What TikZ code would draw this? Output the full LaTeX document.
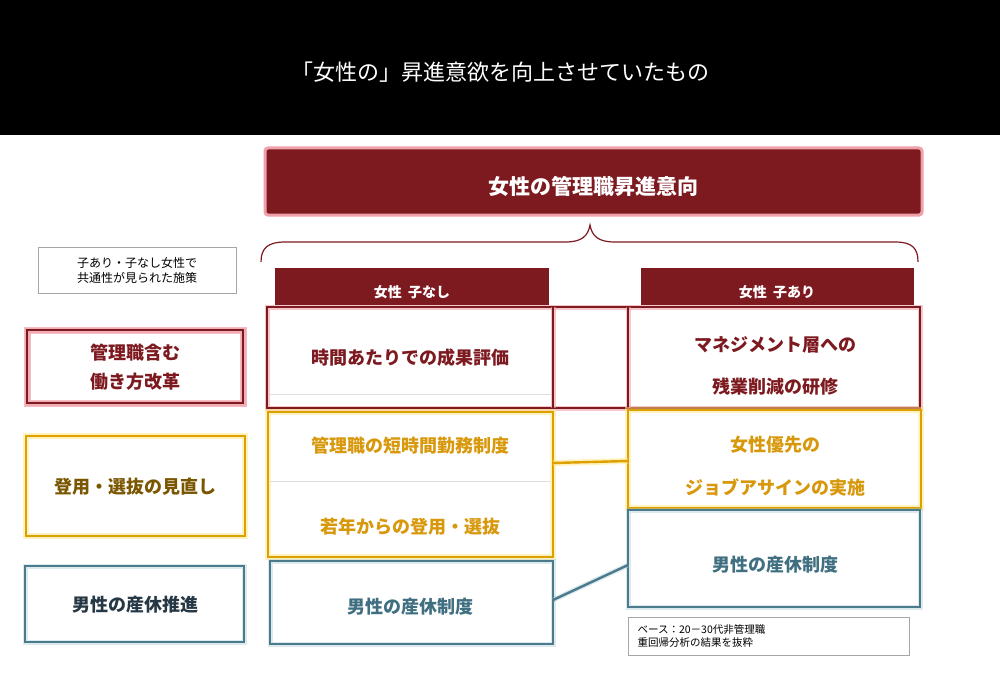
\documentclass[tikz,border=0pt]{standalone}
\usepackage{fontspec}
\setmainfont{Noto Sans CJK JP}
\begin{document}
\begin{tikzpicture}[x=1pt,y=-1pt,
  txt/.style={font=\bfseries\fontsize{18}{22}\selectfont,align=center},
  redc/.style={draw=dred,line width=1.6pt,preaction={draw=pinkg,line width=5pt,opacity=0.6}},
  yelc/.style={draw=gold,line width=2.4pt,preaction={draw=yelg,line width=6pt,opacity=0.5}},
  bluc/.style={draw=blue1,line width=2.4pt,preaction={draw=blueg,line width=5pt,opacity=0.4}},
  notebox/.style={draw=gray!70,line width=0.8pt,fill=white}]
\definecolor{dred}{HTML}{7D1A20}
\definecolor{pinkg}{HTML}{F0A0A8}
\definecolor{gold}{HTML}{DDA000}
\definecolor{goldt}{HTML}{D8980C}
\definecolor{yelg}{HTML}{FFE680}
\definecolor{brownt}{HTML}{7A5600}
\definecolor{blue1}{HTML}{4A7A8C}
\definecolor{blueg}{HTML}{A8C8D4}
\definecolor{bluet}{HTML}{3F6F80}
\definecolor{darkt}{HTML}{263845}
\useasboundingbox (0,0) rectangle (1000,687);
\fill[white] (0,0) rectangle (1000,687);
\fill[black] (0,0) rectangle (1000,135);
\node[white,font=\fontsize{22}{26}\selectfont] (title) at (500,72) {「女性の」昇進意欲を向上させていたもの};
% top box
\draw[fill=dred,draw=pinkg,line width=3pt,rounded corners=3pt] (265,148) rectangle (922,215);
\node[white,font=\bfseries\fontsize{21}{25}\selectfont] (top) at (593,186) {女性の管理職昇進意向};
% brace
\draw[dred,line width=1.2pt] (261,262) .. controls (261,248) and (268,242) .. (285,242) -- (565,242) .. controls (582,242) and (588,236) .. (590,225) .. controls (592,236) and (598,242) .. (615,242) -- (895,242) .. controls (912,242) and (918,248) .. (918,262);
% note
\draw[notebox] (38,247) rectangle (236,293);
\node[font=\fontsize{12}{15}\selectfont,align=center] (n1) at (137,270) {子あり・子なし女性で\\共通性が見られた施策};
% headers
\fill[dred] (275,268) rectangle (549,305);
\node[white,font=\bfseries\fontsize{14}{17}\selectfont] (h1) at (412,292) {女性\ \ 子なし};
\fill[dred] (641,268) rectangle (914,305);
\node[white,font=\bfseries\fontsize{14}{17}\selectfont] (h2) at (777,292) {女性\ \ 子あり};
% red row
\draw[gray!25,line width=0.8pt] (270,394) -- (551,394);
\draw[redc] (267,307) rectangle (920,408);
\draw[redc] (553,307) -- (553,408);
\draw[redc] (628,307) -- (628,408);
\node[txt,dred] (r1) at (410,358) {時間あたりでの成果評価};
\node[txt,dred] (r2a) at (775,345) {マネジメント層への};
\node[txt,dred] (r2b) at (775,387) {残業削減の研修};
% yellow
\draw[gray!25,line width=0.8pt] (270,481) -- (551,481);
\draw[yelc] (268,412) rectangle (553,557);
\draw[yelc] (628,410) rectangle (921,508);
\coordinate (y1) at (553,463);
\coordinate (y2) at (628,461);
\draw[yelc] (y1) -- (y2);
\node[txt,goldt] (ya) at (410,446) {管理職の短時間勤務制度};
\node[txt,goldt] (yb) at (410,527) {若年からの登用・選抜};
\node[txt,goldt] (yc) at (775,445) {女性優先の};
\node[txt,goldt] (yd) at (775,488) {ジョブアサインの実施};
% blue
\draw[bluc] (270,561) rectangle (553,644);
\draw[bluc] (628,510) rectangle (920,607);
\coordinate (b1) at (553,600);
\coordinate (b2) at (628,565);
\draw[bluc] (b1) -- (b2);
\node[txt,bluet] (ba) at (410,607) {男性の産休制度};
\node[txt,bluet] (bb) at (775,565) {男性の産休制度};
% category boxes
\draw[redc,line width=2pt,preaction={draw=pinkg,line width=7pt,opacity=0.7}] (27,330) rectangle (243,403);
\node[txt,dred,font=\bfseries\fontsize{18}{29}\selectfont] (c1) at (135,367) {管理職含む\\働き方改革};
\draw[yelc] (26,436) rectangle (245,536);
\node[txt,brownt] (c2) at (135,487) {登用・選抜の見直し};
\draw[bluc] (25,566) rectangle (244,642);
\node[txt,darkt] (c3) at (135,605) {男性の産休推進};
% note 2
\draw[notebox] (628,617) rectangle (909,655);
\node[font=\fontsize{10.5}{13}\selectfont,align=left,anchor=west] (n2) at (634,636) {ベース：20－30代非管理職\\重回帰分析の結果を抜粋};
\end{tikzpicture}
\end{document}
